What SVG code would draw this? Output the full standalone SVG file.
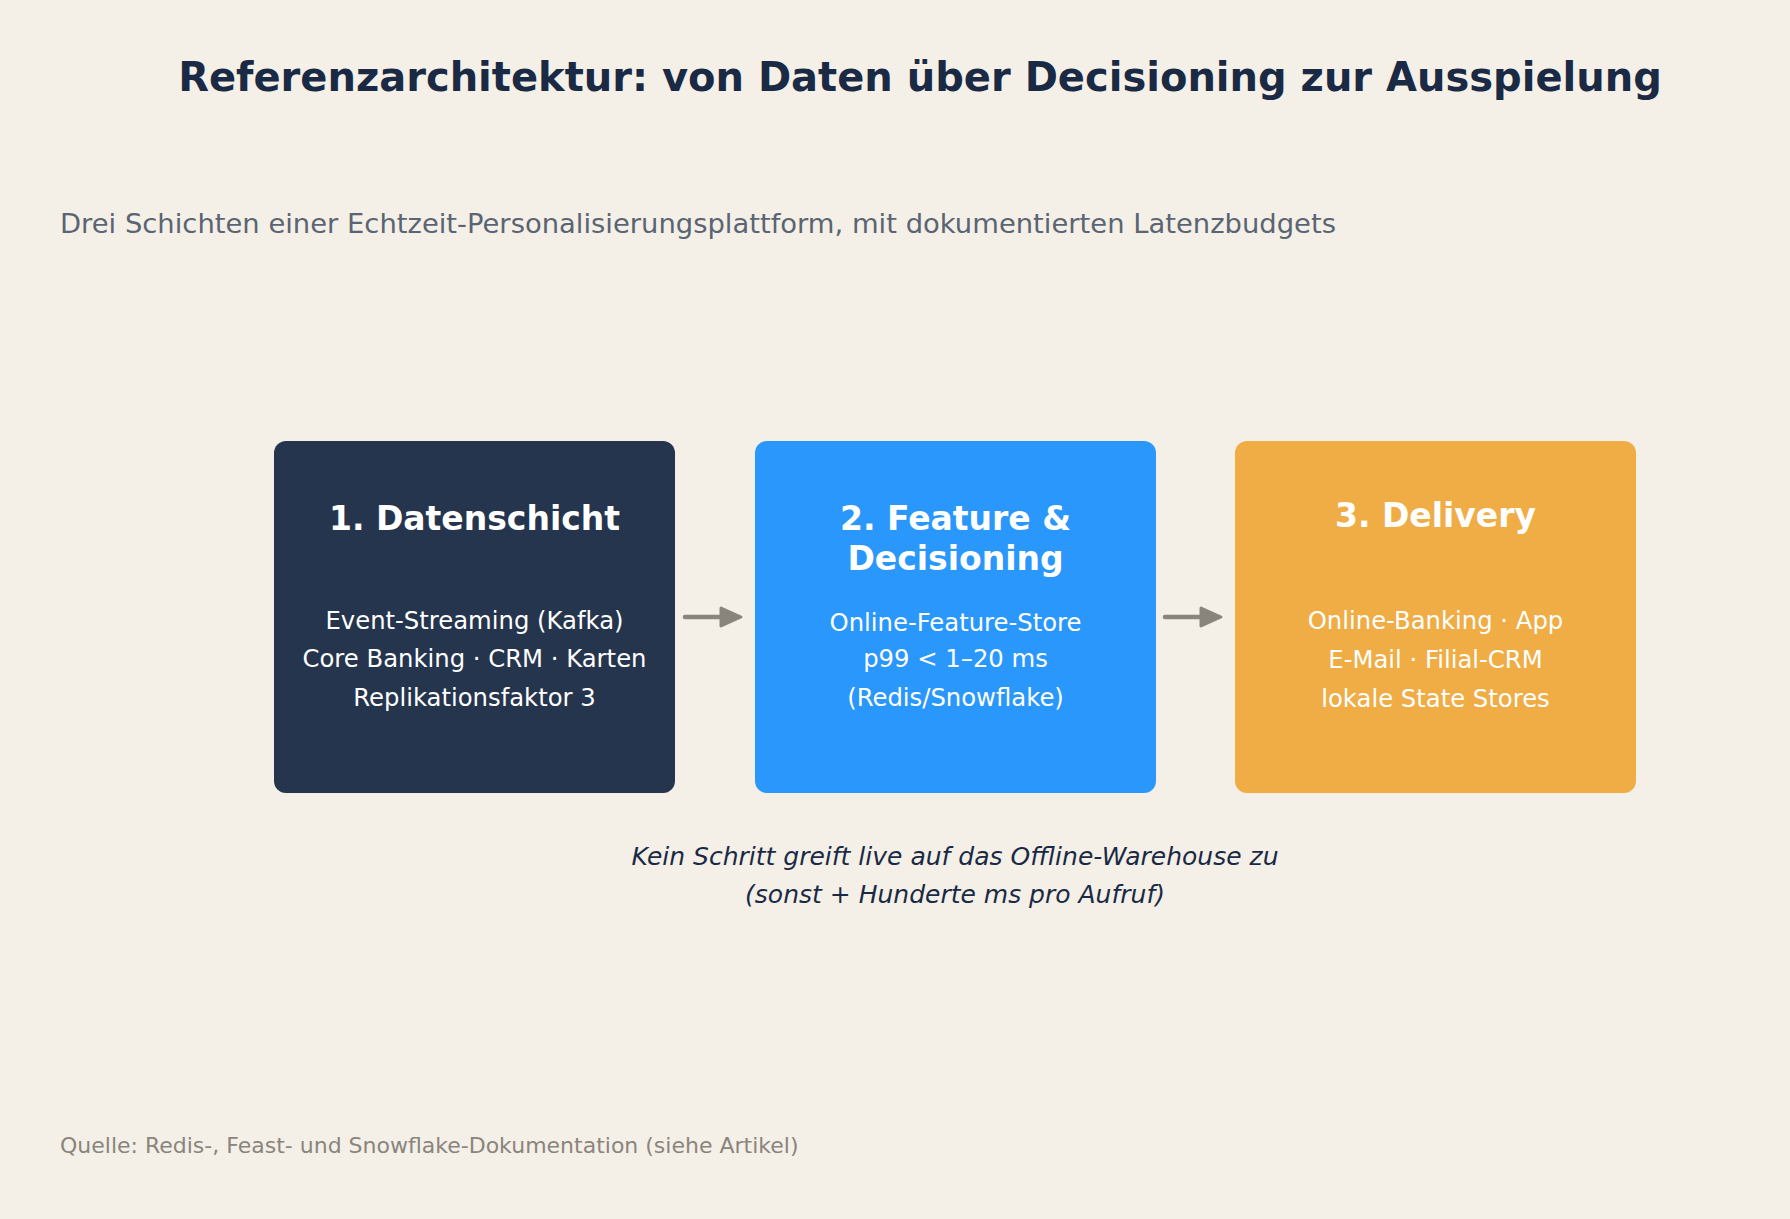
<svg xmlns="http://www.w3.org/2000/svg" width="1790" height="1219" viewBox="0 0 1790 1219">
  <defs>
    <style>
      .title { font-family: "DejaVu Sans", "Liberation Sans", sans-serif; font-weight: bold; font-size: 40px; fill: #1b2a44; }
      .sub { font-family: "DejaVu Sans", "Liberation Sans", sans-serif; font-size: 27.4px; fill: #5b6472; }
      .src { font-family: "DejaVu Sans", "Liberation Sans", sans-serif; font-size: 22px; fill: #8a857c; }
      .note { font-family: "DejaVu Sans", "Liberation Sans", sans-serif; font-style: italic; font-size: 25px; fill: #1b2a44; text-anchor: middle; }
      .ntitle { font-family: "DejaVu Sans", "Liberation Sans", sans-serif; font-weight: bold; font-size: 33px; fill: #ffffff; text-anchor: middle; }
      .nbody { font-family: "DejaVu Sans", "Liberation Sans", sans-serif; font-size: 24.3px; fill: #ffffff; text-anchor: middle; }
      .conn { stroke: #8a857c; stroke-width: 4.5; stroke-linecap: round; fill: none; }
      .head { fill: #8a857c; stroke: #8a857c; stroke-width: 3; stroke-linejoin: round; }
    </style>
  </defs>
  <rect x="0" y="0" width="1790" height="1219" fill="#f4f0e8"/>

  <text class="title" x="920" y="91" text-anchor="middle">Referenzarchitektur: von Daten über Decisioning zur Ausspielung</text>
  <text class="sub" x="60" y="233">Drei Schichten einer Echtzeit-Personalisierungsplattform, mit dokumentierten Latenzbudgets</text>

  <g id="node-datenschicht">
    <rect x="274" y="441" width="401" height="352" rx="12" ry="12" fill="#25354d"/>
    <text class="ntitle" x="474.5" y="530">1. Datenschicht</text>
    <text class="nbody" x="474.5" y="629">Event-Streaming (Kafka)</text>
    <text class="nbody" x="474.5" y="667">Core Banking · CRM · Karten</text>
    <text class="nbody" x="474.5" y="706">Replikationsfaktor 3</text>
  </g>

  <g id="node-feature">
    <rect x="755" y="441" width="401" height="352" rx="12" ry="12" fill="#2997fc"/>
    <text class="ntitle" x="955.5" y="530">2. Feature &amp;</text>
    <text class="ntitle" x="955.5" y="570">Decisioning</text>
    <text class="nbody" x="955.5" y="631">Online-Feature-Store</text>
    <text class="nbody" x="955.5" y="667">p99 &lt; 1–20 ms</text>
    <text class="nbody" x="955.5" y="706">(Redis/Snowflake)</text>
  </g>

  <g id="node-delivery">
    <rect x="1235" y="441" width="401" height="352" rx="12" ry="12" fill="#f0ad45"/>
    <text class="ntitle" x="1435.5" y="527">3. Delivery</text>
    <text class="nbody" x="1435.5" y="629">Online-Banking · App</text>
    <text class="nbody" x="1435.5" y="668">E-Mail · Filial-CRM</text>
    <text class="nbody" x="1435.5" y="707">lokale State Stores</text>
  </g>

  <g id="connectors">
    <line class="conn" x1="685" y1="617" x2="722" y2="617"/>
    <path class="head" d="M721,608 L741,617 L721,626 Z"/>
    <line class="conn" x1="1165" y1="617" x2="1202" y2="617"/>
    <path class="head" d="M1201,608 L1221,617 L1201,626 Z"/>
  </g>

  <g id="footnote">
    <text class="note" x="955" y="865">Kein Schritt greift live auf das Offline-Warehouse zu</text>
    <text class="note" x="955" y="903">(sonst + Hunderte ms pro Aufruf)</text>
  </g>

  <text class="src" x="60" y="1153">Quelle: Redis-, Feast- und Snowflake-Dokumentation (siehe Artikel)</text>
</svg>
